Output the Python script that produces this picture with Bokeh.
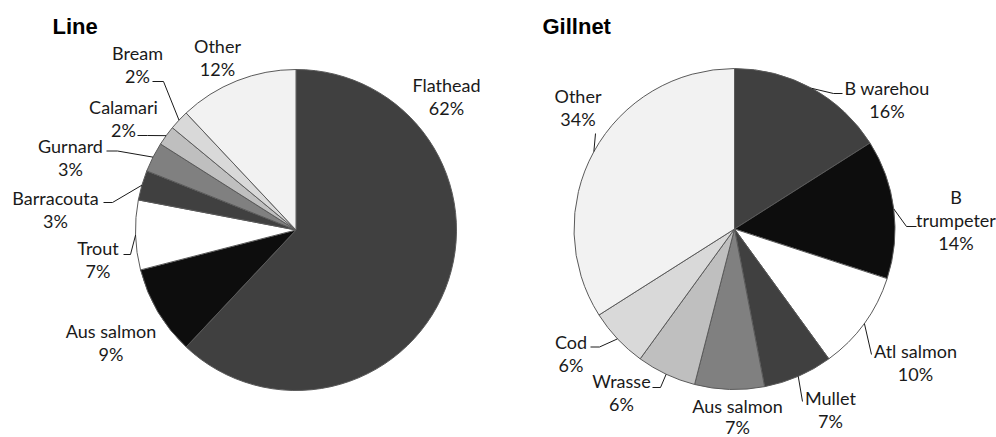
import numpy as np
from bokeh.plotting import figure
from bokeh.models import Range1d, ColumnDataSource
from bokeh.core.properties import value
from bokeh.embed import file_html
from bokeh.resources import INLINE

W, H = 996, 437

# Share of catch by species, per fishing method (percent)
line_species = ["Flathead", "Aus salmon", "Trout", "Barracouta", "Gurnard", "Calamari", "Bream", "Other"]
line_pct = [62, 9, 7, 3, 3, 2, 2, 12]

gillnet_species = ["B warehou", "B trumpeter", "Atl salmon", "Mullet", "Aus salmon", "Wrasse", "Cod", "Other"]
gillnet_pct = [16, 14, 10, 7, 7, 6, 6, 34]

shades = ["#404040", "#0d0d0d", "#ffffff", "#404040", "#808080", "#bfbfbf", "#d9d9d9", "#f2f2f2"]

LABEL_FONT = "Lato"
LABEL_SIZE = "18px"
LINE_STEP = 23
# the text glyph sits a little low for an alphabetic anchor; lift it by this much
LABEL_LIFT = 6.5
TITLE_LIFT = 8

# label placement in page pixels: (centre x, first baseline y, leader start, leader elbow)
line_layout = {
    "Flathead":   ((446, 91), None, None),
    "Aus salmon": ((110.5, 337), None, None),
    "Trout":      ((97.5, 254), (123, 254), (130, 254)),
    "Barracouta": ((55, 204), (103, 202), (112, 202)),
    "Gurnard":    ((70, 152), (106, 150.5), (117, 150.5)),
    "Calamari":   ((123, 113), (137, 135), (147, 135)),
    "Bream":      ((137, 59), (152, 81), (163, 81)),
    "Other":      ((217, 52), None, None),
}
gillnet_layout = {
    "B warehou":   ((886.5, 94), (842, 93), (833, 93)),
    "B trumpeter": ((955.5, 203), (916, 226), (906, 226)),
    "Atl salmon":  ((915, 357), (871, 354), None),
    "Mullet":      ((830, 404), (802, 401), None),
    "Aus salmon":  ((737, 412), None, None),
    "Wrasse":      ((621, 387), (652, 387), (660, 387)),
    "Cod":         ((570.5, 348), (590, 346.5), (599, 346.5)),
    "Other":       ((577.5, 102), (595, 133), None),
}
wrapped = {"B trumpeter"}
# lines below the name sit a little closer for labels near the lower edge
tight = {"Aus salmon": 21}

p = figure(width=W, height=H, x_range=Range1d(0, W), y_range=Range1d(0, H),
           output_backend="svg", toolbar_location=None, min_border=0)
p.axis.visible = False
p.grid.visible = False
p.outline_line_color = None
p.background_fill_color = "white"
p.border_fill_color = "white"


def draw_pie(cx, cy, r, species, pct, layout, step_override=None):
    step_override = step_override or {}
    n = len(pct)
    frac = np.array(pct, dtype=float) / sum(pct)
    cum = np.concatenate([[0.0], np.cumsum(frac)])
    src = ColumnDataSource(dict(
        x=[cx] * n, y=[H - cy] * n,
        start=np.pi / 2 - 2 * np.pi * cum[:-1],
        end=np.pi / 2 - 2 * np.pi * cum[1:],
        color=shades[:n],
    ))
    p.wedge(x="x", y="y", radius=r, radius_units="screen",
            start_angle="start", end_angle="end", direction="clock",
            fill_color="color", line_color="#5a5a5a", line_width=1, source=src)

    tx, ty, tt = [], [], []
    lxs, lys = [], []
    for i, (name, v) in enumerate(zip(species, pct)):
        (lx, ly), lead, elbow = layout[name]
        step = step_override.get(name, LINE_STEP)
        lines = name.split(" ") if name in wrapped else [name]
        lines = lines + [f"{v}%"]
        for k, s in enumerate(lines):
            tx.append(lx)
            ty.append(H - (ly + k * step - LABEL_LIFT))
            tt.append(s)
        if lead is not None:
            theta = 2 * np.pi * (cum[i] + cum[i + 1]) / 2
            ex = cx + r * np.sin(theta)
            ey = cy - r * np.cos(theta)
            pts = [lead] + ([elbow] if elbow is not None else []) + [(ex, ey)]
            lxs.append([q[0] for q in pts])
            lys.append([H - q[1] for q in pts])
    if lxs:
        p.multi_line(xs=lxs, ys=lys, line_color="#1a1a1a", line_width=1)
    p.text(x=tx, y=ty, text=tt, text_font=value(LABEL_FONT), text_font_size=LABEL_SIZE,
           text_align="center", text_baseline="alphabetic", text_color="#1a1a1a")


draw_pie(295.5, 229.5, 160.5, line_species, line_pct, line_layout)
draw_pie(734, 228.5, 160.5, gillnet_species, gillnet_pct, gillnet_layout, tight)

# panel titles
p.text(x=[52, 542], y=[H - 34 + TITLE_LIFT] * 2, text=["Line", "Gillnet"],
       text_font=value("Liberation Sans"), text_font_size="22px", text_font_style="bold",
       text_align="left", text_baseline="alphabetic", text_color="#000000")

open("out.html", "w").write(file_html(p, INLINE))
